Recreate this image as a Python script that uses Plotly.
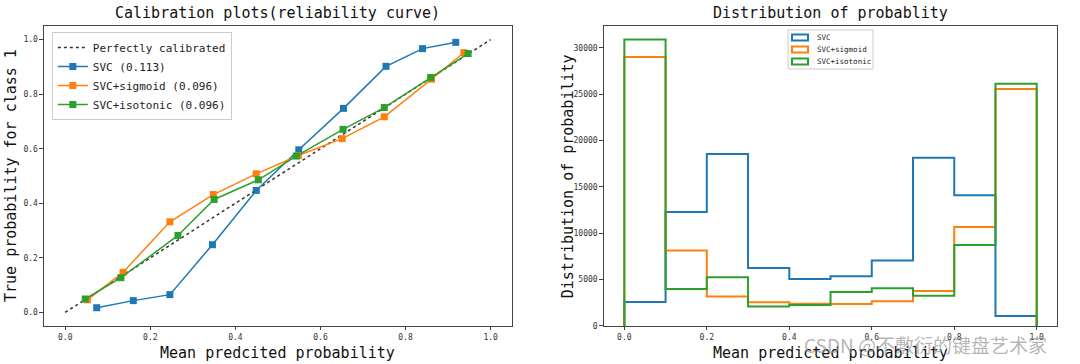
import numpy as np
import plotly.graph_objects as go

# ---------------- data ----------------
svc_x = [0.074, 0.160, 0.246, 0.346, 0.449, 0.549, 0.654, 0.754, 0.840, 0.918]
svc_y = [0.017, 0.043, 0.065, 0.248, 0.447, 0.596, 0.748, 0.902, 0.967, 0.990]
sig_x = [0.052, 0.136, 0.246, 0.348, 0.449, 0.548, 0.651, 0.750, 0.861, 0.937]
sig_y = [0.046, 0.147, 0.332, 0.432, 0.508, 0.575, 0.637, 0.717, 0.855, 0.952]
iso_x = [0.047, 0.131, 0.265, 0.350, 0.454, 0.543, 0.653, 0.750, 0.859, 0.947]
iso_y = [0.049, 0.127, 0.282, 0.414, 0.486, 0.573, 0.671, 0.751, 0.861, 0.949]

bin_edges = [0.0, 0.1, 0.2, 0.3, 0.4, 0.5, 0.6, 0.7, 0.8, 0.9, 1.0]
svc_counts = [2600, 12300, 18550, 6260, 5070, 5360, 7050, 18150, 14100, 1080]
sig_counts = [29000, 8130, 3170, 2550, 2410, 2370, 2660, 3780, 10680, 25550]
iso_counts = [30900, 3990, 5250, 2090, 2270, 3670, 4060, 3270, 8740, 26120]

names_left = ["SVC (0.113)", "SVC+sigmoid (0.096)", "SVC+isotonic (0.096)"]
names_right = ["SVC", "SVC+sigmoid", "SVC+isotonic"]
colors = ["#1f77b4", "#ff7f0e", "#2ca02c"]

prob_ticks = [0.0, 0.2, 0.4, 0.6, 0.8, 1.0]
prob_ticktext = ["0.0", "0.2", "0.4", "0.6", "0.8", "1.0"]
count_ticks = [0, 5000, 10000, 15000, 20000, 25000, 30000]
count_ticktext = ["0", "5000", "10000", "15000", "20000", "25000", "30000"]

MONO = "DejaVu Sans Mono"
fig = go.Figure()

# ---------------- left: calibration curves ----------------
fig.add_trace(go.Scatter(x=[0, 1], y=[0, 1], mode="lines",
                         line=dict(color="#333333", dash="dot", width=1.5),
                         name="Perfectly calibrated", xaxis="x", yaxis="y", legend="legend"))
for xs, ys, nm, c in zip([svc_x, sig_x, iso_x], [svc_y, sig_y, iso_y], names_left, colors):
    fig.add_trace(go.Scatter(x=xs, y=ys, mode="lines+markers",
                             line=dict(color=c, width=1.5),
                             marker=dict(symbol="square", size=7, color=c),
                             name=nm, xaxis="x", yaxis="y", legend="legend"))

# ---------------- right: step histograms ----------------
for counts, nm, c in zip([svc_counts, sig_counts, iso_counts], names_right, colors):
    sx = [bin_edges[0]] + list(bin_edges)
    sy = [0] + list(counts) + [0]
    fig.add_trace(go.Scatter(x=sx, y=sy, mode="lines", line=dict(color=c, width=2, shape="hv"),
                             showlegend=False, xaxis="x2", yaxis="y2", hoverinfo="skip"))

axis_common = dict(showline=True, mirror=True, linecolor="#444444", linewidth=1,
                   ticks="outside", ticklen=3.5, tickcolor="#444444", showgrid=False,
                   zeroline=False, automargin=False,
                   tickfont=dict(family=MONO, size=8, color="#333333"))

# manual legend for the histogram panel (outlined boxes like matplotlib patches)
leg_x0, leg_x1, leg_y_top, leg_y_bot = 788 / 1080, 873 / 1080, 1 - 30 / 364, 1 - 69 / 364
shapes = [dict(type="rect", xref="paper", yref="paper", x0=leg_x0, x1=leg_x1,
               y0=leg_y_bot, y1=leg_y_top, line=dict(color="#cccccc", width=1),
               fillcolor="rgba(255,255,255,0.8)", layer="above")]
annotations = []
for i, (nm, c) in enumerate(zip(names_right, colors)):
    yc = 1 - (37.5 + 12 * i) / 364
    shapes.append(dict(type="rect", xref="paper", yref="paper",
                       x0=792 / 1080, x1=808 / 1080, y0=yc - 3 / 364, y1=yc + 3 / 364,
                       line=dict(color=c, width=2), fillcolor="rgba(255,255,255,0)", layer="above"))
    annotations.append(dict(text=nm, x=815 / 1080, y=yc, xref="paper", yref="paper",
                            xanchor="left", yanchor="middle", showarrow=False,
                            font=dict(family=MONO, size=7.5, color="#222222")))

fig.update_layout(
    width=1080, height=364, margin=dict(l=0, r=0, t=0, b=0, autoexpand=False),
    plot_bgcolor="white", paper_bgcolor="white",
    xaxis=dict(domain=[0.0407, 0.474], range=[-0.05, 1.05], tickvals=prob_ticks,
               ticktext=prob_ticktext, anchor="y", **axis_common),
    yaxis=dict(domain=[0.1044, 0.9286], range=[-0.05, 1.05], tickvals=prob_ticks,
               ticktext=prob_ticktext, anchor="x", **axis_common),
    xaxis2=dict(domain=[0.559, 0.979], range=[-0.05, 1.05], type="linear",
                tickvals=prob_ticks, ticktext=prob_ticktext, anchor="y2", **axis_common),
    yaxis2=dict(domain=[0.1044, 0.9286], range=[0, 32350], type="linear",
                tickvals=count_ticks, ticktext=count_ticktext, anchor="x2", **axis_common),
    legend=dict(x=0.048, y=0.912, xanchor="left", yanchor="top",
                bgcolor="rgba(255,255,255,0.8)", bordercolor="#cccccc", borderwidth=1,
                font=dict(family=MONO, size=11, color="#222222"), tracegroupgap=0),
    shapes=shapes,
    annotations=annotations + [
        dict(text="Calibration plots(reliability curve)", x=0.2574, y=0.9286, xref="paper", yref="paper",
             xanchor="center", yanchor="bottom", yshift=2, showarrow=False,
             font=dict(family=MONO, size=15, color="#111111")),
        dict(text="Distribution of probablity", x=0.769, y=0.9286, xref="paper", yref="paper",
             xanchor="center", yanchor="bottom", yshift=2, showarrow=False,
             font=dict(family=MONO, size=15, color="#111111")),
        dict(text="Mean predcited probability", x=0.2574, y=0.0, xref="paper", yref="paper",
             xanchor="center", yanchor="bottom", showarrow=False,
             font=dict(family=MONO, size=15, color="#111111")),
        dict(text="Mean predicted probability", x=0.769, y=0.0, xref="paper", yref="paper",
             xanchor="center", yanchor="bottom", showarrow=False,
             font=dict(family=MONO, size=15, color="#111111")),
        dict(text="True probability for class 1", x=0.0, y=0.5165, xref="paper", yref="paper",
             xanchor="left", yanchor="middle", textangle=-90, showarrow=False,
             font=dict(family=MONO, size=15, color="#111111")),
        dict(text="Distribution of probability", x=0.516, y=0.5165, xref="paper", yref="paper",
             xanchor="left", yanchor="middle", textangle=-90, showarrow=False,
             font=dict(family=MONO, size=15, color="#111111")),
        dict(text="CSDN @不敷衍的键盘艺术家", x=0.971, y=0.01, xref="paper", yref="paper",
             xanchor="right", yanchor="bottom", showarrow=False,
             font=dict(family="Noto Sans CJK SC", size=19, color="rgba(150,150,150,0.7)")),
    ],
)

fig.write_html("out.html", config={"displayModeBar": False},
               post_script="document.body.style.margin='0';document.body.style.overflow='hidden';")
